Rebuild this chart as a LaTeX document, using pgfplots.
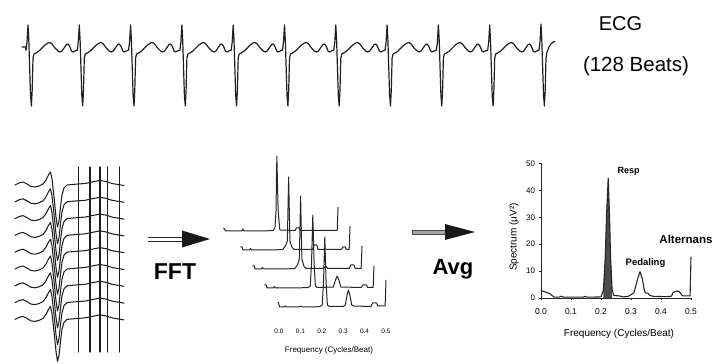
\documentclass[border=0pt]{standalone}
\usepackage{pgfplots}
\pgfplotsset{compat=1.18}
\usepackage{pgfplotstable}
\usepackage{fontspec}
\setmainfont{Liberation Sans}

% one ECG beat, R peak at t=0 (pixel-time units), amplitude above baseline
\pgfplotstableread{
t v
-2.0 0
-1.0 8
0 25
0.8 10
2.5 -45
3.4 -56
4.2 -40
5.0 -8
6.0 -4
8.0 -3
11 -1
14 2
17 5
20 7
22 7.5
24 6
27 2
30 -1
32 -2
34 -1
36 2
38.5 5.5
40 6
41.5 4
43.5 -1
45 -2
47 -1
49.3 0
}\beat
\pgfplotstableread{
t v
-2.0 0
-1.0 8
0 26
0.8 10
2.5 -45
3.4 -56
4.2 -40
5.0 -8
6 -2
8 3
10 6
12 8
14 8.5
}\lastbeat
% averaged-beat trace (stacked beats)
\pgfplotstableread{
t v
15 0
19 2
23 3
27 1
31 -1.5
35 -2
39 -1
43 1
46 5
48.5 10
50.5 13
52 6
54 -12
56 -32
57.5 -42
59 -36
60.5 -22
62 -10
64 -3
67 0
72 0.5
78 1
85 1.5
92 3
100 4.5
106 3.5
112 1.5
118 0.5
124 -0.5
}\stack
% waterfall spectra (front = S0)
\pgfplotstableread{
f a
-0.006 5
-0.002 4
0.003 0
0.025 0
0.03 1
0.035 0
0.09 0
0.1 0.8
0.11 0
0.19 0.3
0.202 2
0.208 25
0.214 70
0.22 25
0.226 2
0.235 0.5
0.3 0.5
0.31 2
0.318 12
0.324 17
0.331 12
0.34 2
0.35 1
0.43 0.5
0.437 4
0.456 4
0.462 1
0.496 1
0.5 27
}\specA
\pgfplotstableread{
f a
-0.012 3
-0.004 3
0.0 0
0.03 0
0.035 1.5
0.04 0
0.19 0.3
0.202 2
0.208 25
0.214 73
0.22 25
0.226 2
0.235 0.5
0.31 1
0.32 8
0.328 12
0.336 8
0.345 1
0.44 0.5
0.448 3
0.465 3
0.47 0.5
0.496 0.5
0.5 22
}\specB
\pgfplotstableread{
f a
-0.012 3
-0.004 3
0.0 0
0.03 0
0.035 1.5
0.04 0
0.185 0.3
0.198 4
0.207 10
0.213 73
0.219 10
0.228 3
0.238 0.5
0.32 0.5
0.33 3
0.34 0.5
0.44 0.5
0.447 4
0.462 4
0.468 0.5
0.496 0.5
0.5 23
}\specC
\pgfplotstableread{
f a
-0.012 3
-0.004 3
0.0 0
0.03 0
0.035 1.5
0.04 0
0.185 0.3
0.198 4
0.207 9
0.213 73
0.219 9
0.228 3
0.238 0.5
0.325 0.5
0.332 5
0.345 5
0.35 0.5
0.46 0.5
0.467 3
0.478 3
0.482 0.5
0.496 0.5
0.5 24
}\specD
\pgfplotstableread{
f a
-0.035 3
-0.025 0
0.0 0
0.05 0
0.055 2
0.06 0
0.195 0.3
0.205 3
0.21 20
0.214 75
0.22 20
0.228 1
0.3 0.5
0.305 3
0.318 3
0.325 0.5
0.496 0.5
0.5 24
}\specE
% averaged spectrum
\pgfplotstableread{
f a
0 2.8
0.01 2.4
0.02 2.0
0.03 1.6
0.038 0.8
0.045 0.3
0.06 0.3
0.068 0.7
0.075 0.3
0.14 0.3
0.148 0.6
0.155 0.3
0.2 0.4
0.208 3
0.214 15
0.219 32
0.224 44.5
0.228 32
0.232 15
0.237 3
0.243 0.9
0.26 0.8
0.275 0.4
0.29 0.6
0.3 1.2
0.31 2
0.322 7
0.33 9.8
0.338 7
0.345 2.5
0.35 1.8
0.356 1.8
0.362 1
0.375 0.6
0.42 0.5
0.435 0.7
0.44 2
0.45 2.5
0.46 2.5
0.466 1.6
0.472 0.8
0.497 0.8
0.5 15.3
}\avgspec

\begin{document}
\begin{tikzpicture}[
  ecg/.style={black!88, line width=1.2pt, line join=round, line cap=round},
  trace/.style={black!88, line width=1.05pt, line join=round, line cap=round},
  spec/.style={black!85, line width=1.0pt, line join=round},
]
\useasboundingbox (0,0) rectangle (715pt,364pt);

% ---------------- ECG strip ----------------
\begin{axis}[at={(20pt,254pt)}, anchor=south west, scale only axis,
  width=540pt, height=92pt, xmin=20, xmax=560, ymin=-60, ymax=32,
  hide axis, clip=false]
\addplot[ecg] coordinates {(22,3)(25.5,3)(26,0)};
\pgfplotsinvokeforeach{0,...,9}{
  \addplot[ecg] table[x expr=\thisrow{t}+28+51.3*#1, y=v]{\beat};
}
\addplot[ecg] table[x expr=\thisrow{t}+541, y=v]{\lastbeat};
\end{axis}

% ---------------- stacked beats ----------------
\begin{axis}[at={(10pt,0pt)}, anchor=south west, scale only axis,
  width=120pt, height=204pt, xmin=10, xmax=130, ymin=0, ymax=204,
  hide axis, clip=false]
\addplot[trace] coordinates {(78.3,12)(78.3,197)};
\addplot[trace] coordinates {(90,12)(90,197)};
\addplot[trace] coordinates {(100,12)(100,197)};
\addplot[trace] coordinates {(107.3,12)(107.3,197)};
\addplot[trace] coordinates {(119.3,12)(119.3,197)};
\pgfplotsinvokeforeach{179,162.2,145.4,128.6,111.8,95,78.2,61.4,44.6}{
  \addplot[trace] table[x=t, y expr=\thisrow{v}+#1]{\stack};
}
\end{axis}

% ---------------- waterfall of spectra ----------------
\begin{axis}[at={(214.8pt,37pt)}, anchor=south west, scale only axis,
  width=181.9pt, height=180pt, xmin=-0.3, xmax=0.55, ymin=-20, ymax=160,
  hide y axis, axis x line*=bottom, x axis line style={draw=none},
  tick style={draw=none},
  xtick={0,0.1,0.2,0.3,0.4,0.5},
  xticklabels={0.0,0.1,0.2,0.3,0.4,0.5},
  xticklabel style={font=\fontsize{6.5}{7}\selectfont, inner sep=1pt, yshift=-1pt},
  clip=false]
\addplot[spec] table[x expr=\thisrow{f}-0.224, y expr=\thisrow{a}+76]{\specE};
\addplot[spec] table[x expr=\thisrow{f}-0.168, y expr=\thisrow{a}+57]{\specD};
\addplot[spec] table[x expr=\thisrow{f}-0.112, y expr=\thisrow{a}+38]{\specC};
\addplot[spec] table[x expr=\thisrow{f}-0.056, y expr=\thisrow{a}+19]{\specB};
\addplot[spec] table[x=f, y=a]{\specA};
\end{axis}

% ---------------- averaged spectrum ----------------
\begin{axis}[at={(541pt,66pt)}, anchor=south west, scale only axis,
  width=150pt, height=134.5pt, xmin=0, xmax=0.5, ymin=0, ymax=50,
  axis lines=left, axis line style={-, line width=0.8pt, black!85},
  xtick={0,0.1,0.2,0.3,0.4,0.5},
  xticklabels={0.0,0.1,0.2,0.3,0.4,0.5},
  ytick={0,10,20,30,40,50},
  tick align=outside, major tick length=2.5pt,
  tick style={line width=0.6pt, black!85},
  xticklabel style={font=\fontsize{8.5}{9}\selectfont, yshift=-5pt},
  yticklabel style={font=\fontsize{8}{9}\selectfont},
  /pgf/number format/assume math mode=true,
  clip=false]
\addplot[fill=black!70, draw=none] coordinates {(0.208,0)(0.208,3)(0.214,15)(0.219,32)(0.224,44.5)(0.228,32)(0.232,15)(0.237,3)(0.237,0)} -- cycle;
\addplot[spec, line width=1.1pt] table[x=f, y=a]{\avgspec};
\end{axis}

% ---------------- texts and arrows ----------------
\node[anchor=base, font=\fontsize{20}{24}\selectfont] at (620.5pt,333.3pt) {ECG};
\node[anchor=base, font=\fontsize{20.5}{24}\selectfont] at (636pt,292.3pt) {(128 Beats)};

% FFT arrow (double shaft)
\draw[black!85, line width=0.8pt] (148pt,127pt) -- (183pt,127pt);
\draw[black!85, line width=0.8pt] (148pt,123pt) -- (183pt,123pt);
\fill[black!90] (182pt,133.5pt) -- (210pt,125pt) -- (182pt,116.5pt) -- cycle;
\node[anchor=base, font=\fontsize{23}{27}\selectfont\bfseries] at (175pt,84pt) {FFT};

% Avg arrow (grey shaft)
\filldraw[fill=black!35, draw=black!70, line width=0.6pt] (412pt,130pt) rectangle (447pt,134pt);
\fill[black!90] (445pt,140pt) -- (475pt,132pt) -- (445pt,124pt) -- cycle;
\node[anchor=base, font=\fontsize{22}{26}\selectfont\bfseries] at (453pt,89pt) {Avg};

% waterfall label
\node[font=\fontsize{8}{9}\selectfont] at (329pt,14pt) {Frequency (Cycles/Beat)};

% averaged spectrum labels
\node[rotate=90, font=\fontsize{10}{12}\selectfont] at (514pt,127pt) {Spectrum (μV²)};
\node[font=\fontsize{10}{12}\selectfont] at (619pt,30pt) {Frequency (Cycles/Beat)};
\node[anchor=base, font=\fontsize{9}{11}\selectfont\bfseries] at (628.5pt,190pt) {Resp};
\node[anchor=base, font=\fontsize{9.5}{11}\selectfont\bfseries] at (645.5pt,98pt) {Pedaling};
\node[anchor=base, font=\fontsize{11.5}{13}\selectfont\bfseries] at (686pt,120pt) {Alternans};
\end{tikzpicture}
\end{document}
